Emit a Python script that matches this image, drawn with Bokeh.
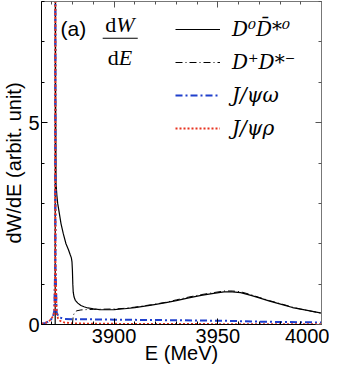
from bokeh.plotting import figure
from bokeh.models import (Range1d, FixedTicker, LinearAxis, Legend, LegendItem, Label)
from bokeh.embed import file_html
from bokeh.resources import INLINE

# ---------------- data ----------------
E_d0 = [3865, 3871.6, 3871.7, 3871.8, 3872.0, 3872.4, 3872.8, 3873.6, 3874.4, 3875.5,
        3876.8, 3878.0, 3878.9, 3879.4, 3879.7, 3879.9, 3880.1, 3880.3, 3880.7, 3881.3,
        3882.5, 3884.0, 3885.5, 3887.3, 3890, 3893, 3897, 3900, 3905, 3910, 3918, 3925,
        3930, 3936, 3942, 3948, 3953, 3957, 3961, 3966, 3970, 3975, 3982, 3986, 3990,
        3995, 4000]
W_d0 = [0, 0, 12, 6, 3.5, 3.2, 3.0, 2.75, 2.5, 2.25,
        2.0, 1.85, 1.72, 1.65, 1.55, 1.35, 1.0, 0.8, 0.68, 0.6,
        0.53, 0.47, 0.44, 0.41, 0.39, 0.37, 0.365, 0.37, 0.39, 0.42, 0.48, 0.54,
        0.59, 0.66, 0.72, 0.77, 0.81, 0.81, 0.79, 0.72, 0.66, 0.58, 0.48, 0.42, 0.38,
        0.33, 0.28]

E_dp = [3879.9, 3880.3, 3881, 3882, 3884, 3887, 3890, 3895, 3900, 3905, 3910, 3918,
        3925, 3930, 3936, 3942, 3948, 3953, 3957, 3961, 3966, 3970, 3975, 3982, 3986,
        3990, 3995, 4000]
W_dp = [0, 0.22, 0.3, 0.34, 0.36, 0.37, 0.375, 0.38, 0.385, 0.40, 0.43, 0.49,
        0.55, 0.61, 0.68, 0.74, 0.79, 0.83, 0.83, 0.81, 0.74, 0.67, 0.59, 0.49, 0.43,
        0.38, 0.33, 0.28]

E_om = [3865, 3867, 3869, 3870.5, 3871.2, 3871.6, 3871.65, 3871.7, 3871.75, 3872.3,
        3873, 3874, 3876, 3880, 3885, 3900, 3920, 3940, 3955, 3970, 3985, 4000]
W_om = [0.02, 0.04, 0.09, 0.18, 0.35, 1.5, 12, 12, 1.5, 0.3,
        0.22, 0.17, 0.14, 0.13, 0.13, 0.12, 0.11, 0.1, 0.09, 0.07, 0.06, 0.05]

E_rho = [3865, 3867, 3869, 3870.5, 3871.2, 3871.6, 3871.65, 3871.7, 3871.75, 3872.3,
         3873, 3874, 3876, 3880, 3890, 3920, 3960, 4000]
W_rho = [0.02, 0.04, 0.1, 0.2, 0.3, 1.5, 12, 12, 1.5, 0.25,
         0.15, 0.09, 0.05, 0.03, 0.02, 0.015, 0.01, 0.01]

x_major = [3900, 3950, 4000]
x_minor = [3870, 3880, 3890, 3900, 3910, 3920, 3930, 3940, 3950, 3960, 3970, 3980, 3990, 4000]
y_major = [0, 5]
y_minor = [0, 1, 2, 3, 4, 5, 6, 7, 8]

labels = ["D\u2070D\u0304*\u2070", "D\u207aD*\u207b", "J/\u03c8\u03c9", "J/\u03c8\u03c1"]
x_title = "E (MeV)"
y_title = "dW/dE (arbit. unit)"

SANS = "Liberation Sans"
SERIF = "DejaVu Serif"
TIMES = "Liberation Serif"
BLUE = "#1f3fcc"
RED = "#e8331f"

p = figure(width=329, height=366, output_backend="svg", toolbar_location=None,
           x_range=Range1d(3865, 4000), y_range=Range1d(0, 8),
           min_border_left=32, min_border_right=8, min_border_top=1, min_border_bottom=0)
p.background_fill_color = "white"
p.border_fill_color = "white"
p.outline_line_color = "#777777"
p.grid.visible = False

xt = FixedTicker(ticks=x_major, minor_ticks=x_minor)
yt = FixedTicker(ticks=y_major, minor_ticks=y_minor)

for ax, t in ((p.xaxis[0], xt), (p.yaxis[0], yt)):
    ax.ticker = t
    ax.major_tick_in = 6
    ax.major_tick_out = 0
    ax.minor_tick_in = 3
    ax.minor_tick_out = 0
    ax.axis_line_color = "black"
    ax.major_tick_line_color = "black"
    ax.minor_tick_line_color = "black"
    ax.major_label_text_font = SANS
    ax.major_label_text_font_size = "20px"
    ax.major_label_text_color = "black"
    ax.axis_label_text_font = SANS
    ax.axis_label_text_font_size = "20px"
    ax.axis_label_text_font_style = "normal"
    ax.axis_label_text_color = "black"

p.xaxis.axis_label = x_title
p.yaxis.axis_label = y_title
p.xaxis.major_label_standoff = 4
p.xaxis.axis_label_standoff = -4
p.yaxis.major_label_standoff = 2
p.yaxis.axis_label_standoff = 0

for loc, t, ticks in (("above", xt, x_major), ("right", yt, y_major)):
    ax = LinearAxis(ticker=t)
    ax.major_tick_in = 6
    ax.major_tick_out = 0
    ax.minor_tick_in = 3
    ax.minor_tick_out = 0
    ax.axis_line_color = "#777777"
    ax.major_tick_line_color = "#555555"
    ax.minor_tick_line_color = "#555555"
    ax.major_label_overrides = {v: "" for v in ticks}
    ax.major_label_text_font_size = "1px"
    ax.major_label_standoff = 0
    p.add_layout(ax, loc)

r1 = p.line(E_d0, W_d0, line_color="black", line_width=1.2)
r2 = p.line(E_dp, W_dp, line_color="black", line_width=1.0, line_dash="7 3 1 3")
r3 = p.line(E_om, W_om, line_color=BLUE, line_width=2.0, line_dash="7 3 2 3")
r4 = p.line(E_rho, W_rho, line_color=RED, line_width=1.8, line_dash="2 2")

legend = Legend(items=[LegendItem(label=labels[0], renderers=[r1]),
                       LegendItem(label=labels[1], renderers=[r2]),
                       LegendItem(label=labels[2], renderers=[r3]),
                       LegendItem(label=labels[3], renderers=[r4])],
                location=(134, 184))
legend.border_line_color = None
legend.background_fill_alpha = 0
legend.padding = 0
legend.margin = 0
legend.glyph_width = 45
legend.glyph_height = 22
legend.label_height = 22
legend.spacing = 9
legend.label_standoff = 12
legend.label_text_font = SERIF
legend.label_text_font_style = "italic"
legend.label_text_font_size = "20px"
legend.label_text_color = "black"
p.add_layout(legend)

def txt(x, y, s, font, size, style="normal", align="center"):
    p.add_layout(Label(x=x, y=y, text=s, text_font=font, text_font_size=size,
                       text_font_style=style, text_align=align,
                       text_baseline="middle", text_color="black"))

txt(3880.4, 7.34, "(a)", SANS, "21px")
txt(3901.0, 7.42, "d", TIMES, "22px", align="right")
txt(3901.0, 7.42, "W", TIMES, "22px", style="italic", align="left")
txt(3902.3, 6.62, "d", TIMES, "22px", align="right")
txt(3902.3, 6.62, "E", TIMES, "22px", style="italic", align="left")
p.line([3894.5, 3911.4], [7.09, 7.09], line_color="black", line_width=1.2)

open("out.html", "w").write(file_html(p, INLINE))
